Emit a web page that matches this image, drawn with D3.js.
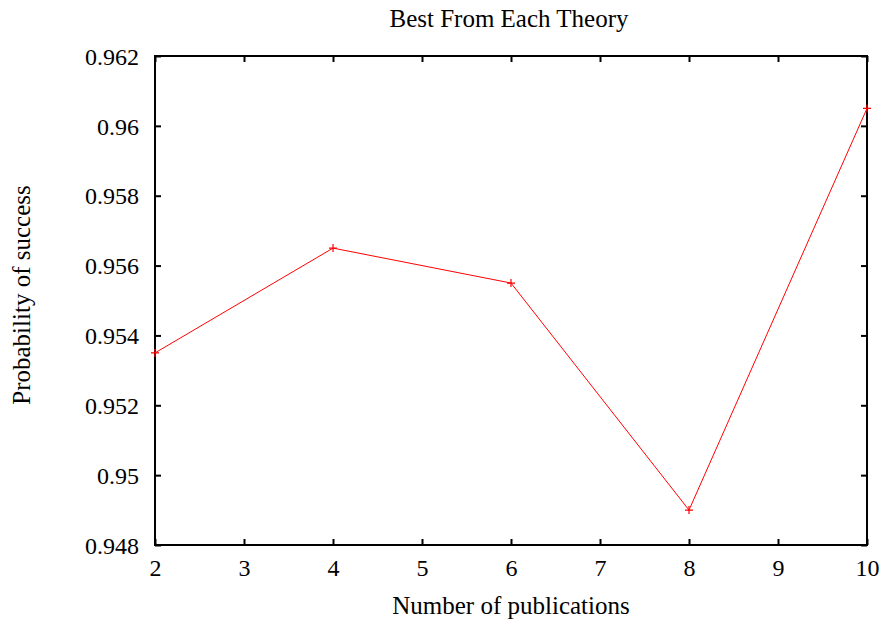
<!DOCTYPE html>
<html>
<head>
<meta charset="utf-8">
<script src="https://cdn.jsdelivr.net/npm/d3@7"></script>
<style>
  html, body { margin: 0; padding: 0; background: #fff; }
  svg { display: block; }
</style>
</head>
<body>
<svg id="chart" width="885" height="623"></svg>
<script>
// Best configuration from each theory, by number of publications
const publications = [2, 4, 6, 8, 10];
const successProb = [0.9535, 0.9565, 0.9555, 0.949, 0.9605];
const xTicks = [2, 3, 4, 5, 6, 7, 8, 9, 10];
const yTicks = [0.948, 0.95, 0.952, 0.954, 0.956, 0.958, 0.96, 0.962];

const W = 885, H = 623;
const FONT = "'Liberation Serif', 'Times New Roman', serif";
const margin = { left: 155, right: 18, top: 56, bottom: 78 };
const svg = d3.select("#chart");

const x = d3.scaleLinear().domain([2, 10]).range([margin.left, W - margin.right]);
const y = d3.scaleLinear().domain([0.948, 0.962]).range([H - margin.bottom, margin.top]);

const tickLen = 6;
const fmt = d => String(+d.toFixed(3));

// Bottom axis with labels
const gB = svg.append("g").attr("transform", `translate(0,${y.range()[0]})`)
  .call(d3.axisBottom(x).tickValues(xTicks).tickSizeInner(-tickLen).tickSizeOuter(0).tickPadding(14).tickFormat(d3.format("d")));
// Top mirror ticks
const gT = svg.append("g").attr("transform", `translate(0,${y.range()[1]})`)
  .call(d3.axisTop(x).tickValues(xTicks).tickSizeInner(-tickLen).tickSizeOuter(0).tickFormat(""));
// Left axis with labels
const gL = svg.append("g").attr("transform", `translate(${x.range()[0]},0)`)
  .call(d3.axisLeft(y).tickValues(yTicks).tickSizeInner(-tickLen).tickSizeOuter(0).tickPadding(16).tickFormat(fmt));
// Right mirror ticks
const gR = svg.append("g").attr("transform", `translate(${x.range()[1]},0)`)
  .call(d3.axisRight(y).tickValues(yTicks).tickSizeInner(-tickLen).tickSizeOuter(0).tickFormat(""));

[gB, gT, gL, gR].forEach(g => {
  g.attr("font-family", FONT).attr("font-size", 24);
  g.select(".domain").remove();
  g.selectAll(".tick line").attr("stroke", "#000").attr("stroke-width", 2);
  g.selectAll(".tick text").attr("fill", "#000")
    .style("font-family", FONT).style("font-size", "24px");
});
gB.selectAll(".tick text").attr("dy", "0.71em");
gL.selectAll(".tick text").attr("dy", "0.34em");

// Plot frame
svg.append("rect")
  .attr("x", x.range()[0]).attr("y", y.range()[1])
  .attr("width", x.range()[1] - x.range()[0])
  .attr("height", y.range()[0] - y.range()[1])
  .attr("fill", "none").attr("stroke", "#000").attr("stroke-width", 2);

// Data line
const pts = publications.map((p, i) => [p, successProb[i]]);
svg.append("path")
  .datum(pts)
  .attr("fill", "none").attr("stroke", "#ff0000").attr("stroke-width", 1)
  .attr("d", d3.line().x(d => x(d[0])).y(d => y(d[1])));

// Plus-sign markers
const m = 4;
svg.append("g").selectAll("path.pt").data(pts).join("path")
  .attr("class", "pt")
  .attr("stroke", "#ff0000").attr("stroke-width", 1.2).attr("fill", "none")
  .attr("d", d => {
    const cx = x(d[0]), cy = y(d[1]);
    return `M${cx - m},${cy}H${cx + m}M${cx},${cy - m}V${cy + m}`;
  });

// Titles
const midX = (x.range()[0] + x.range()[1]) / 2;
const label = sel => sel.style("font-family", FONT).style("font-size", "25px")
  .attr("fill", "#000").attr("text-anchor", "middle");
svg.append("text").attr("x", midX - 2).attr("y", 27).call(label).text("Best From Each Theory");
svg.append("text").attr("x", midX).attr("y", 614).call(label).text("Number of publications");
svg.append("text").attr("transform", `translate(30,295) rotate(-90)`).call(label).text("Probability of success");
</script>
</body>
</html>
